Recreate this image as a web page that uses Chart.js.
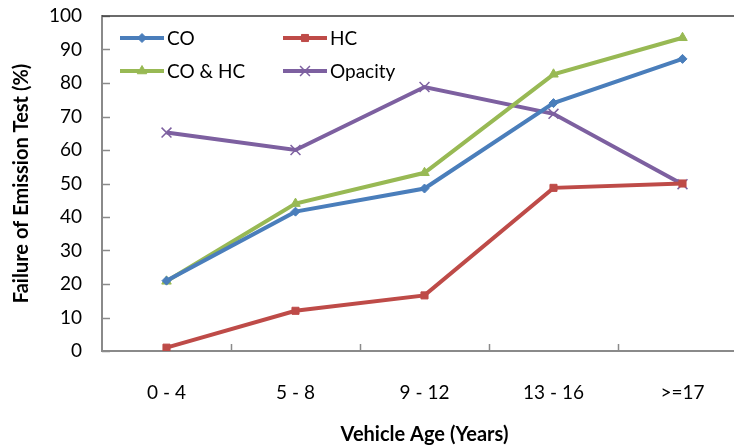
<!DOCTYPE html>
<html>
<head>
<meta charset="utf-8">
<script src="https://cdn.jsdelivr.net/npm/chart.js@4/dist/chart.umd.min.js"></script>
<style>
  html, body { margin: 0; padding: 0; background: #fff; overflow: hidden; }
  #wrap { width: 734px; height: 448px; overflow: hidden; position: relative; }
</style>
</head>
<body>
<div id="wrap"><canvas id="chart" width="750" height="448"></canvas></div>
<script>
// data
const ageGroups = ['0 - 4', '5 - 8', '9 - 12', '13 - 16', '>=17'];
const coFail = [21, 41.6, 48.5, 74, 87.2];
const hcFail = [1, 12, 16.6, 48.7, 50];
const coHcFail = [20.8, 44, 53.2, 82.6, 93.5];
const opacityFail = [65.2, 60, 78.8, 70.8, 49.8];
const yTicks = [0, 10, 20, 30, 40, 50, 60, 70, 80, 90, 100];

const FONT = 'Lato, "Open Sans", sans-serif';
const axisGray = '#8a8a8a';

const datasets = [
    { label: 'CO', data: coFail, color: '#4a7ebb', style: 'rectRot', r: 4.5, bw: 1 },
    { label: 'HC', data: hcFail, color: '#be4b48', style: 'rect', r: 5, bw: 1 },
    { label: 'CO & HC', data: coHcFail, color: '#98b954', style: 'triangle', r: 5.5, bw: 1 },
    { label: 'Opacity', data: opacityFail, color: '#7d60a0', style: 'crossRot', r: 7, bw: 1.5 }
].map(d => ({
    label: d.label,
    data: d.data,
    borderColor: d.color,
    backgroundColor: d.color,
    pointBackgroundColor: d.color,
    pointBorderColor: d.color,
    pointStyle: d.style,
    pointRadius: d.r,
    pointBorderWidth: d.bw,
    borderWidth: 4,
    tension: 0
}));

// inside tick marks, top frame line and the legend in the top-left corner
const decor = {
    id: 'decor',
    afterDraw(chart) {
        const ctx = chart.ctx;
        const { left, right, top, bottom } = chart.chartArea;
        const x = chart.scales.x, y = chart.scales.y;
        ctx.save();
        ctx.strokeStyle = axisGray;
        ctx.lineWidth = 1.5;
        ctx.beginPath();
        yTicks.forEach(v => {
            const py = Math.round(y.getPixelForValue(v)) + 0.5;
            ctx.moveTo(left, py); ctx.lineTo(left + 8, py);
        });
        for (let i = 1; i < ageGroups.length; i++) {
            const px = Math.round((x.getPixelForValue(i - 1) + x.getPixelForValue(i)) / 2) + 0.5;
            ctx.moveTo(px, bottom); ctx.lineTo(px, bottom - 7);
        }
        ctx.stroke();

        ctx.strokeStyle = '#3a3a3a';
        ctx.lineWidth = 1.5;
        ctx.beginPath();
        ctx.moveTo(left, top); ctx.lineTo(right, top);
        ctx.stroke();

        // legend
        const cols = [120, 283], rows = [38, 71];
        ctx.font = '19px ' + FONT;
        ctx.textBaseline = 'middle';
        ctx.fillStyle = '#000';
        chart.data.datasets.forEach((ds, i) => {
            const lx = cols[i % 2], ly = rows[Math.floor(i / 2)];
            ctx.strokeStyle = ds.borderColor;
            ctx.lineWidth = 4;
            ctx.beginPath();
            ctx.moveTo(lx, ly); ctx.lineTo(lx + 44, ly);
            ctx.stroke();
            ctx.fillStyle = ds.borderColor;
            ctx.strokeStyle = ds.borderColor;
            ctx.lineWidth = ds.pointBorderWidth;
            Chart.helpers.drawPoint(ctx, { pointStyle: ds.pointStyle, radius: ds.pointRadius, borderWidth: ds.pointBorderWidth, rotation: 0 }, lx + 22, ly);
            ctx.fillStyle = '#000';
            ctx.fillText(ds.label, lx + 47, ly + 1);
        });
        ctx.restore();
    }
};

new Chart(document.getElementById('chart'), {
    type: 'line',
    data: { labels: ageGroups, datasets },
    plugins: [decor],
    options: {
        responsive: false,
        animation: false,
        layout: { autoPadding: false, padding: { top: 16, right: 3, left: 0, bottom: 0 } },
        plugins: { legend: { display: false }, tooltip: { enabled: false } },
        scales: {
            x: {
                offset: true,
                grid: { display: false, drawTicks: false },
                border: { display: true, color: axisGray, width: 2 },
                ticks: { color: '#000', font: { family: FONT, size: 19 }, padding: 30, maxRotation: 0 },
                title: { display: true, text: 'Vehicle Age (Years)', color: '#000', font: { family: FONT, size: 20, weight: 'bold' }, padding: { top: 0, bottom: 1 } },
                afterFit: s => { s.height = 97; }
            },
            y: {
                min: 0, max: 100,
                afterBuildTicks: s => { s.ticks = yTicks.map(v => ({ value: v })); },
                grid: { display: true, drawOnChartArea: false, drawTicks: true, tickLength: 20, tickColor: 'rgba(0,0,0,0)' },
                border: { display: true, color: axisGray, width: 2 },
                ticks: { color: '#000', font: { family: FONT, size: 19 }, padding: 0 },
                title: { display: true, text: 'Failure of Emission Test (%)', color: '#000', font: { family: FONT, size: 20, weight: 'bold' }, padding: { top: 10, bottom: 0 } },
                afterFit: s => { s.width = 102; }
            }
        }
    }
});
</script>
</body>
</html>
